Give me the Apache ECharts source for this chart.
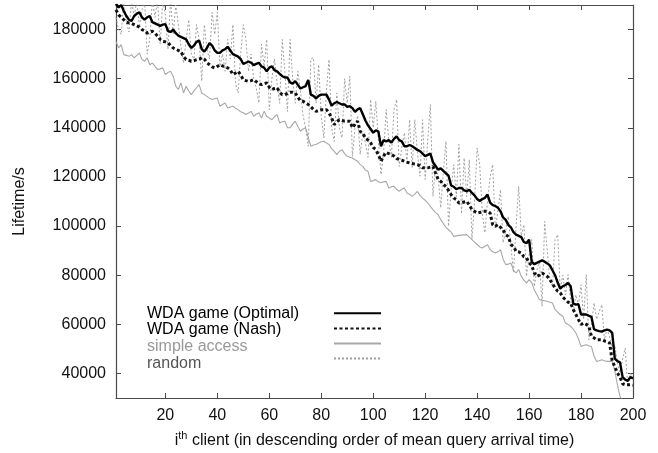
<!DOCTYPE html>
<html>
<head>
<meta charset="utf-8">
<script src="https://cdn.jsdelivr.net/npm/echarts@6/dist/echarts.min.js"></script>
<style>html,body{margin:0;padding:0;background:#fff}#c{width:658px;height:453px}</style>
</head>
<body>
<div id="c"></div>
<script>
const seriesNames = ['WDA game (Optimal)', 'WDA game (Nash)', 'simple access', 'random'];
const xTickValues = [20, 40, 60, 80, 100, 120, 140, 160, 180, 200];
const yTickValues = [40000, 60000, 80000, 100000, 120000, 140000, 160000, 180000];

const optimal = [
190500,189000,190000,187500,185500,184000,183500,185500,186500,187000,
185000,184000,185000,185500,183000,182500,182000,181500,182000,182200,
179500,179000,180000,178500,177500,177000,176500,176000,174000,172500,
173500,175000,175500,172000,171000,172500,174500,173500,171500,170500,
170500,171500,172000,173000,171500,170000,169500,169000,168000,166000,
166500,167000,166500,165500,166000,166500,165000,164500,163000,164500,
165000,163500,163000,162000,161000,160500,160500,158500,158000,159000,
157500,156000,156500,157000,159500,153500,153000,152000,153000,153500,
153500,153500,151500,149000,150000,150500,150000,149500,149500,148500,
148800,148000,146500,147500,148000,145500,143000,141000,139500,138000,
139000,138500,132500,135000,134500,135000,134000,135500,136500,135000,
134500,132500,132500,133000,132500,131800,131000,130500,129500,128500,
129000,129500,126000,124500,123000,123500,122500,121500,120500,116500,
116000,115000,115500,115500,114500,114200,114800,113500,112500,111000,
110200,111000,111500,112800,109500,108500,108200,107500,106000,103500,
102500,100500,99500,97500,96500,96000,95500,93500,93000,94500,
85500,84500,85000,85500,86000,85500,84800,84000,82000,80000,
77000,74500,75500,76000,76800,75500,68500,68000,68200,64000,
64000,64000,63500,63000,58000,57500,57200,57000,57500,57800,
57500,56500,46000,45000,44500,38500,37500,37000,38500,38000];

const nash = [
188000,186000,185000,184000,183000,182700,182500,182000,181500,181000,
180000,179500,178600,179000,179300,178500,177300,176000,175200,175000,
174600,173500,172500,172000,171500,171000,169000,167800,167500,167100,
167300,167800,168000,168500,168000,166500,165700,164800,164400,165000,
165700,165200,164800,164400,163500,161700,162300,163000,161500,159600,
159200,158900,159200,159600,158800,158000,157600,158000,158300,156500,
155600,156000,156300,154500,153500,153500,154000,154500,154500,154200,
152500,151000,150800,150100,149500,148500,147500,146700,147000,147400,
147400,147400,146000,144000,141300,142500,143300,143000,142700,142700,
142700,140000,141500,142700,138500,137900,135800,135000,133900,132000,
131100,129000,126400,128500,130000,129500,129100,128500,127500,127100,
126800,126400,126000,125700,125500,125200,125000,124500,123700,123700,
123700,124000,124300,121600,119000,118200,117000,116000,114500,112800,
111400,110800,109400,109500,109800,110100,108500,106700,106000,105300,
105500,106000,106000,106000,105300,100500,99900,100600,99500,98500,
96500,95800,92500,91700,89700,89500,89000,87500,87000,85000,
84000,80900,79500,80000,80900,80200,79500,78200,76500,74800,
73500,72800,71000,70000,69000,68700,66000,64000,61900,59900,
60500,60000,59200,55100,54500,53700,53700,53700,53200,53000,
52400,45000,42800,40200,38500,35800,35400,35400,35400,35200];

const simpleAccess = [
175200,172500,173900,169800,169500,169100,169800,168500,169500,170500,
167800,167100,168500,165700,166400,165000,163700,164000,164400,161700,
162500,163000,161000,157000,155600,158300,154200,156900,155000,153500,
155000,156300,157600,154200,153500,152800,152000,151500,151800,152100,
148800,149500,150100,148100,148500,148800,148000,147400,146500,146100,
145400,146000,146700,144700,145500,146100,144000,146700,144700,144000,
143300,144500,145400,142000,142500,142700,140000,140000,141500,142700,
140500,138600,139500,140000,136000,132500,133000,133200,133800,134300,
134500,133800,133200,131500,130400,129100,130500,131100,129500,128400,
128000,127700,127000,126400,125000,124300,122800,122300,118200,118500,
118900,118000,117600,118000,118200,115500,116000,116200,115000,114100,
115000,115500,113500,113000,112100,113000,114100,112500,111400,110500,
109400,108000,106700,105500,104600,102600,101000,99500,98500,97500,
95800,96000,96200,96300,96400,96500,95500,94500,93500,92500,
91500,91100,91800,92400,90500,89500,89000,89500,90400,86500,
84300,84500,85000,82000,80900,82300,79500,78000,76800,78200,
77000,74000,72100,70000,69800,69600,69400,69000,68700,66000,
65000,64000,63300,60500,59900,59200,58000,56500,54000,51000,
51400,51700,51300,51000,47000,44900,45200,45600,45200,44900,
44900,44900,41000,35400,30600,28500,27000,26000,25500,25000];

const randomAccess = [
185000,180000,178000,192000,183000,179000,192000,185000,192000,181000,
188000,192000,170000,176000,192000,185000,192000,174000,192000,186000,
172000,192000,178000,190000,182000,173000,166400,176000,184000,170000,
168000,182000,176000,159000,182000,172000,168000,187000,178000,187000,
165000,170000,163000,176000,168000,182000,158000,154200,170000,182000,
176000,163000,170000,160000,156000,150100,174000,165000,176000,147400,
160000,168000,158000,150000,176000,163000,146700,176000,160000,150000,
163000,155000,145000,140000,132500,168000,168500,150000,165700,145000,
135900,155000,167800,140000,134500,154200,140000,135900,160000,150000,
161000,128400,140000,145000,129100,138000,134000,128000,151500,140000,
150800,135000,121000,130000,147400,135000,128000,147400,151500,124300,
132000,138000,126000,143300,123700,143300,130000,120300,143300,119000,
135000,149500,112100,125000,120000,107400,122000,134500,99900,115000,
125000,112000,133200,105000,127700,112000,127000,94500,110000,131800,
125000,105000,97300,110000,120000,125000,99000,106000,114800,93200,
98000,104000,92000,81000,100000,116200,96000,100600,79500,88000,
94500,75400,82000,86000,67300,101900,90000,78000,75400,94500,
96500,74100,80000,72000,80200,70000,64600,72000,68000,76100,
62000,80200,53700,60000,68700,62000,65300,68000,53700,58000,
55000,50000,51700,44000,40200,46000,50300,34700,40000,38000];

const toPairs = arr => arr.map((v, k) => [k + 1, v]);
const font = "'Liberation Sans', Arial, Helvetica, sans-serif";
const axisColor = '#4a4a4a';

const chart = echarts.init(document.getElementById('c'), null, {renderer: 'canvas'});

const baseX = {
  type: 'value', min: 1, max: 200,
  axisLine: {show: true, lineStyle: {color: axisColor, width: 1.2}},
  splitLine: {show: false},
  axisTick: {show: true, inside: true, length: 5, lineStyle: {color: axisColor}, customValues: xTickValues},
};
const baseY = {
  type: 'value', min: 30000, max: 190000,
  axisLine: {show: true, lineStyle: {color: axisColor, width: 1.2}},
  splitLine: {show: false},
  axisTick: {show: true, inside: true, length: 5, lineStyle: {color: axisColor}, customValues: yTickValues},
};

chart.setOption({
  animation: false,
  backgroundColor: '#fff',
  textStyle: {fontFamily: font},
  grid: {left: 116, right: 25, top: 5, bottom: 55, containLabel: false, outerBoundsMode: 'none'},
  xAxis: [
    Object.assign({}, baseX, {
      position: 'bottom',
      axisLabel: {show: true, customValues: xTickValues, fontSize: 16, color: '#111', margin: 10, fontFamily: font},
      name: 'i{sup|th} client (in descending order of mean query arrival time)',
      nameLocation: 'middle', nameGap: 32,
      nameTextStyle: {fontSize: 16, lineHeight: 22, color: '#111', fontFamily: font,
        rich: {sup: {fontSize: 11, verticalAlign: 'top', lineHeight: 12, fontFamily: font, color: '#111'}}}
    }),
    Object.assign({}, baseX, {position: 'top', axisLabel: {show: false}})
  ],
  yAxis: [
    Object.assign({}, baseY, {
      position: 'left',
      axisLabel: {show: true, customValues: yTickValues, fontSize: 16, color: '#111', margin: 10, fontFamily: font,
        formatter: v => String(v)},
      name: 'Lifetime/s', nameLocation: 'middle', nameGap: 88,
      nameTextStyle: {fontSize: 16, color: '#111', fontFamily: font}
    }),
    Object.assign({}, baseY, {position: 'right', axisLabel: {show: false}})
  ],
  legend: [
    {
      selectedMode: false, orient: 'vertical', left: 137, top: 300,
      itemWidth: 0, itemHeight: 0, itemGap: 0, icon: 'rect',
      itemStyle: {opacity: 0}, lineStyle: {opacity: 0},
      textStyle: {fontSize: 16, lineHeight: 16.7, fontFamily: font, color: '#000'},
      data: [
        {name: seriesNames[0], textStyle: {color: '#000'}},
        {name: seriesNames[1], textStyle: {color: '#000'}},
        {name: seriesNames[2], textStyle: {color: '#999'}},
        {name: seriesNames[3], textStyle: {color: '#555'}}
      ]
    },
    {
      selectedMode: false, orient: 'vertical', left: 328, top: 300,
      itemWidth: 47, itemHeight: 16.7, itemGap: 0,
      itemStyle: {opacity: 0},
      formatter: () => '',
      textStyle: {fontSize: 1},
      data: seriesNames
    }
  ],
  series: [
    {name: seriesNames[3], type: 'line', data: toPairs(randomAccess), symbol: 'none', z: 1,
      lineStyle: {color: '#a0a0a0', width: 1, type: [2, 2]}, itemStyle: {color: '#a0a0a0'}},
    {name: seriesNames[2], type: 'line', data: toPairs(simpleAccess), symbol: 'none', z: 2,
      lineStyle: {color: '#a8a8a8', width: 1.1}, itemStyle: {color: '#a8a8a8'}},
    {name: seriesNames[1], type: 'line', data: toPairs(nash), symbol: 'none', z: 3,
      lineStyle: {color: '#111', width: 3, type: [3, 2.5]}, itemStyle: {color: '#111'}},
    {name: seriesNames[0], type: 'line', data: toPairs(optimal), symbol: 'none', z: 4,
      lineStyle: {color: '#000', width: 2.4}, itemStyle: {color: '#000'}}
  ]
});
</script>
</body>
</html>
